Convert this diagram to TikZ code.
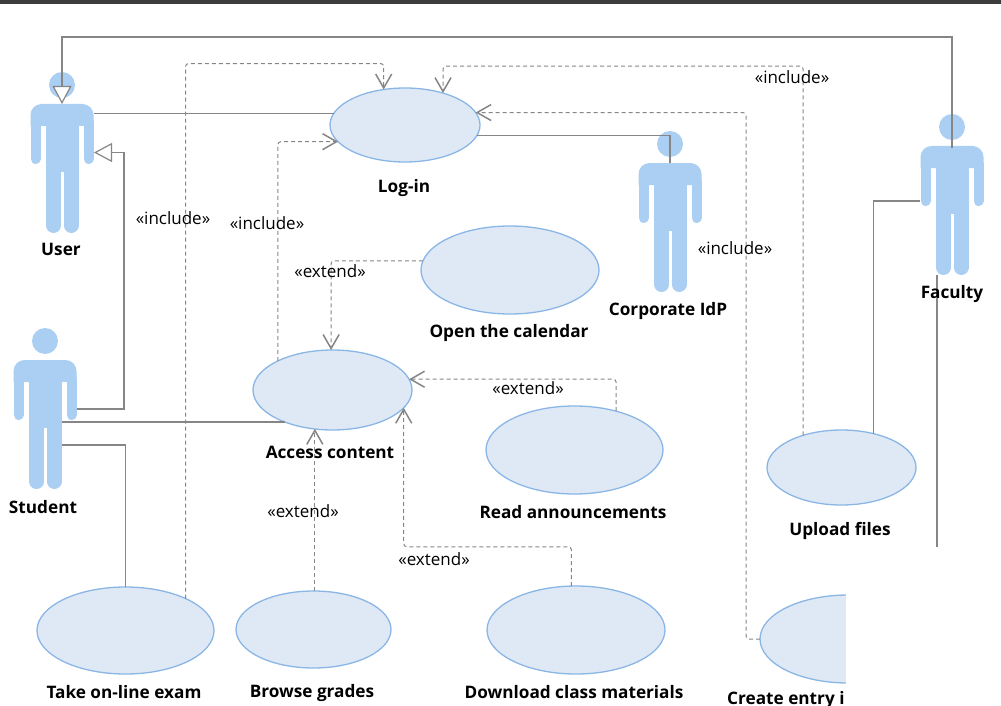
\documentclass[tikz,border=0pt]{standalone}
\usepackage{fontspec}
\setmainfont{Open Sans}
\usetikzlibrary{arrows.meta,shapes.geometric}

\definecolor{figblue}{HTML}{ABCFF2}
\definecolor{ucfill}{HTML}{DFE9F5}
\definecolor{ucline}{HTML}{8AB6E6}
\definecolor{linegray}{HTML}{868686}
\definecolor{topbar}{HTML}{3C3C3C}

\newcommand{\actorfigure}{%
  \fill[figblue] (0,-67.5) circle (13);
  \fill[figblue] (-31.5,-26.5) [rounded corners=11pt] -- (-31.5,-48.5) -- (31.5,-48.5) [sharp corners] -- (31.5,-26.5) -- cycle;
  \fill[figblue] (-16,-40.5) rectangle (16.5,19.5);
  \draw[figblue,line width=10pt,line cap=round] (-26.5,-30.5) -- (-26.5,6.5) (26.5,-30.5) -- (26.5,6.5);
  \draw[figblue,line width=15pt,line cap=round] (-8.5,14.5) -- (-8.5,73) (9,14.5) -- (9,73);}

\begin{document}
\begin{tikzpicture}[x=1pt,y=-1pt]
      \tikzset{
        usecase/.style={ellipse,draw=ucline,fill=ucfill,line width=1.3pt,inner sep=0pt,outer sep=0pt},
        actor/.style={rectangle,inner sep=0pt,outer sep=0pt,minimum width=64pt,minimum height=161pt,path picture={\actorfigure}},
        name label/.style={inner sep=0pt,font=\fontsize{17.2}{20}\selectfont\bfseries},
        stereo/.style={inner sep=0pt,font=\fontsize{17}{20}\selectfont,text=black},
        assoc/.style={draw=linegray,line width=1.2pt},
        generalize/.style={assoc,-{Triangle[open,fill=white,length=18pt,width=19pt]}},
        depend/.style={draw=linegray,line width=1pt,dash pattern=on 4pt off 3pt,rounded corners=3pt,
          -{Straight Barb[length=14pt,width=16pt,line width=1.5pt]}}
      }

      \useasboundingbox (0,0) rectangle (1001,706);
      \fill[topbar] (0,0) rectangle (1001,4);

      \node[actor] (user) at (62,152.5) {};
      \node[actor] (student) at (45,408.5) {};
      \node[actor] (corporate) at (670,211.5) {};
      \node[actor] (faculty) at (952,194.5) {};
      \coordinate (studentleg) at ([xshift=16.5pt]student.center);

      \node[usecase,minimum width=150pt,minimum height=74pt] (login) at (405,125) {};
      \node[usecase,minimum width=178pt,minimum height=88pt] (calendar) at (510,270) {};
      \node[usecase,minimum width=159pt,minimum height=80pt] (access) at (332.5,390) {};
      \node[usecase,minimum width=177pt,minimum height=88pt] (announce) at (574.5,450) {};
      \node[usecase,minimum width=149pt,minimum height=75pt] (upload) at (841.5,467.5) {};
      \node[usecase,minimum width=177pt,minimum height=87pt] (exam) at (125.5,630.5) {};
      \node[usecase,minimum width=155pt,minimum height=77pt] (grades) at (313.5,629.5) {};
      \node[usecase,minimum width=178pt,minimum height=88pt] (materials) at (576,630) {};
      \node[usecase,minimum width=176pt,minimum height=88pt] (entry) at (848,639) {};

      % plain associations
      \draw[assoc] (user.east |- login.171) -- (login.171);
      \draw[assoc] (studentleg |- access.214) -- (access.214);
      \draw[assoc] ([yshift=-36.5pt]studentleg) -| (exam.north);
      \draw[assoc] (login.352) -| ([yshift=-32pt]corporate.north);
      \draw[assoc] ([yshift=-87pt]faculty.north west) -| (upload.47);
      \draw[assoc] ([xshift=-15pt]faculty.south) |- (entry.east);

      % generalizations
      \draw[generalize] ([yshift=-34pt]faculty.north) |- ([yshift=35pt]user.north) -- ([yshift=-32pt]user.north);
      \draw[generalize] ([yshift=-81pt]student.north east) -| ([xshift=30pt]user.east) -- (user.east);

      % include and extend
      \draw[depend] (exam.28) |- ([yshift=26pt]login.121) -- (login.121);
      \draw[depend] (access.152) |- (login.194);
      \draw[depend] (upload.140) |- ([yshift=27pt]login.40) -- (login.40);
      \draw[depend] (entry.west) -- ++(-14,0) |- (login.10);
      \draw[depend] (calendar.174) -| (access.92);
      \draw[depend] (announce.43) |- (access.8);
      \draw[depend] (grades.88) -- (grades.88 |- access.244);
      \draw[depend] (materials.96) |- ([yshift=-139pt]access.346) -- (access.346);

      \node[stereo] (incl1) at (173,218) {«include»};
      \node[stereo] (incl2) at (267,223) {«include»};
      \node[stereo] (incl3) at (792,77) {«include»};
      \node[stereo] (incl4) at (735,248) {«include»};
      \node[stereo] (ext1) at (330,271) {«extend»};
      \node[stereo] (ext2) at (528,388) {«extend»};
      \node[stereo] (ext3) at (303,511) {«extend»};
      \node[stereo] (ext4) at (434,559) {«extend»};

      \node[name label] (userlbl) at (61,249.5) {User};
      \node[name label] (studentlbl) at (43,507) {Student};
      \node[name label] (corporatelbl) at (668,311) {Corporate IdP};
      \node[name label] (facultylbl) at (952,294) {Faculty};
      \node[name label] (loginlbl) at (404,188.5) {Log-in};
      \node[name label] (calendarlbl) at (509,333) {Open the calendar};
      \node[name label] (accesslbl) at (330,452.5) {Access content};
      \node[name label] (announcelbl) at (573,512.5) {Read announcements};
      \node[name label] (uploadlbl) at (840,530.5) {Upload files};
      \node[name label] (examlbl) at (124,692.5) {Take on-line exam};
      \node[name label] (gradeslbl) at (312,693) {Browse grades};
      \node[name label] (materialslbl) at (574,692.5) {Download class materials};
      \node[name label,anchor=west] (entrylbl) at (727,700) {Create entry i};

      % blank corner over the cut-off part
      \fill[white] (846,547) rectangle (1001,706);
\end{tikzpicture}
\end{document}
